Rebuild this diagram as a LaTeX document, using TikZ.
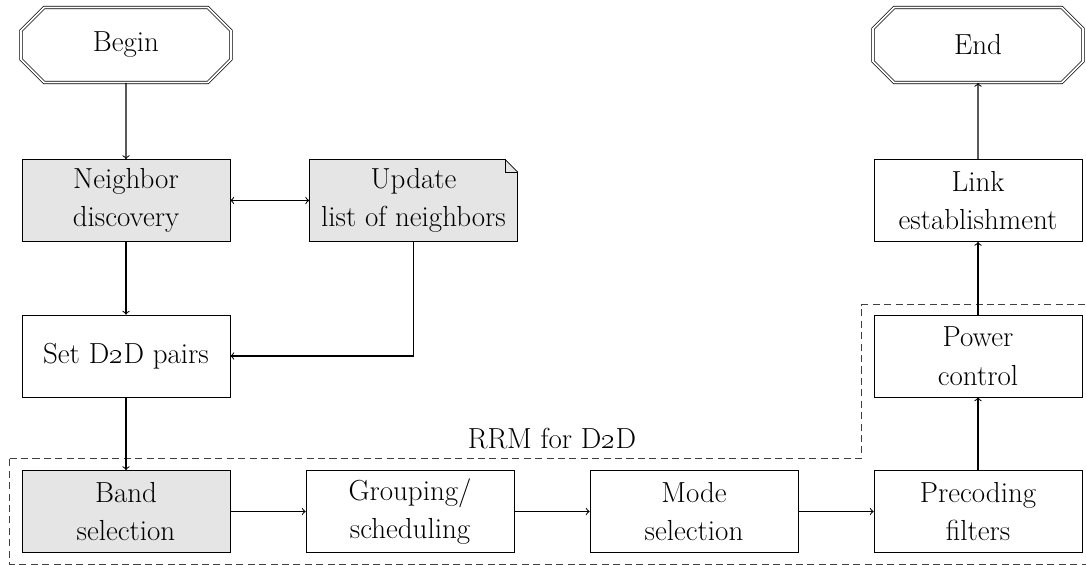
\documentclass[tikz,border=0pt]{standalone}
\usetikzlibrary{shapes.misc, arrows, calc}
\tikzstyle{terminal} = [chamfered rectangle, chamfered rectangle xsep=0.36cm, minimum width=4.2cm, minimum height=1.5cm, text centered, draw=black, double, double distance=1pt]
\tikzstyle{process} = [rectangle, minimum width=4.16cm, minimum height=1.64cm, text centered, align=center, draw=black]
\tikzstyle{shaded} = [process, fill=gray!20]
\tikzstyle{arrow} = [semithick, ->, >=to]
\tikzstyle{region} = [draw=black!75, dash pattern=on 4pt off 2.5pt]
\newcommand{\dogear}{0.26cm}

\begin{document}
\begin{tikzpicture}[node distance=3.11cm, font=\fontsize{16.5}{22}\selectfont]
\useasboundingbox (-2.52,0.9) rectangle (19.2,-10.4);
\node (begin) [terminal] {Begin};
\node (disc) [shaded, below of=begin] {Neighbor\\discovery};
\node (update) [shaded, right of=disc, xshift=2.64cm, inner xsep=0.15cm] {Update\\list of neighbors};
\node (pairs) [process, below of=disc] {Set D\oldstylenums{2}D pairs};

\node (band) [shaded, below of=pairs] {Band\\selection};
\node (group) [process, right of=band, xshift=2.57cm] {Grouping/\\scheduling};
\node (mode) [process, right of=group, xshift=2.57cm] {Mode\\selection};
\node (precod) [process, right of=mode, xshift=2.57cm] {Precoding\\filters};
\node (power) [process, above of=precod] {Power\\control};
\node (link) [process, above of=power] {Link\\establishment};
\node (end) [terminal, above of=link] {End};

% folded corner of the note
\fill[white] ([xshift=-\dogear]update.north east) -- ([xshift=-\dogear, yshift=1pt]update.north east) -- ([shift={(1pt,1pt)}]update.north east) -- ([shift={(1pt,-\dogear)}]update.north east) -- ([yshift=-\dogear]update.north east) -- cycle;
\draw ([xshift=-\dogear]update.north east) -- ([yshift=-\dogear]update.north east);
\draw ([xshift=-\dogear]update.north east) |- ([yshift=-\dogear]update.north east);

% RRM region
\draw [region] ([shift={(-0.24cm,0.24cm)}]band.north west) -| ([shift={(-0.24cm,0.2cm)}]power.north west) -- ([shift={(0.4cm,0.2cm)}]power.north east) |- ([shift={(-0.24cm,-0.22cm)}]band.south west) -- cycle;
\node (rrm) at ($(group.north)!0.5!(mode.north)+(0,0.64)$) {RRM for D\oldstylenums{2}D};

\draw [arrow] (begin) -- (disc);
\draw [arrow, <->] (disc) -- (update);
\draw [arrow] (disc) -- (pairs);
\draw [arrow] (update) |- (pairs);
\draw [arrow] (pairs) -- (band);
\draw [arrow] (band) -- (group);
\draw [arrow] (group) -- (mode);
\draw [arrow] (mode) -- (precod);
\draw [arrow] (precod) -- (power);
\draw [arrow] (power) -- (link);
\draw [arrow] (link) -- (end);

\end{tikzpicture}
\end{document}
